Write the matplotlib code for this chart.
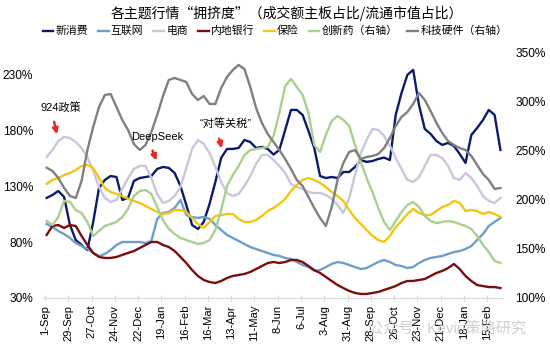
import matplotlib
matplotlib.use('Agg')
import matplotlib.pyplot as plt
import matplotlib.dates as mdates
import pandas as pd

plt.rcParams['font.family'] = ['Liberation Sans', 'Noto Sans CJK SC']

# Weekly sampling of the daily crowding series
dates = pd.date_range('2024-09-03', periods=79, freq='7D')
tick_dates = pd.date_range('2024-09-01', periods=20, freq='28D')
tick_labels = [f'{d.day}-{d.strftime("%b")}' for d in tick_dates]

# Left axis (%)
new_consumption = [119.5, 122.1, 125.7, 120.3, 95.3, 81.9, 77.4, 72.9, 98.0, 128.4,
                   135.6, 139.1, 138.2, 117.7, 119.5, 134.7, 137.3, 138.2, 139.1, 145.4,
                   147.2, 146.3, 141.8, 130.2, 113.2, 95.3, 91.7, 98.0, 114.1, 133.8,
                   155.3, 163.3, 163.3, 164.2, 171.3, 169.5, 164.2, 165.1, 163.3, 158.3,
                   162.4, 180.3, 198.2, 198.2, 193.7, 179.4, 164.2, 139.1, 137.3, 138.2,
                   137.3, 142.7, 142.7, 147.2, 153.4, 151.7, 152.5, 154.3, 155.6, 153.4,
                   193.7, 213.4, 229.5, 234.0, 202.6, 181.2, 176.7, 170.4, 166.9, 168.7,
                   166.0, 158.8, 150.8, 175.8, 182.1, 189.2, 198.2, 193.7, 162.4]
internet = [96.2, 93.5, 89.9, 87.2, 83.7, 79.2, 76.5, 73.8, 70.3, 67.6,
            69.4, 72.9, 77.4, 80.1, 80.1, 80.1, 80.1, 79.2, 81.0, 100.7,
            106.0, 106.9, 110.5, 117.7, 104.2, 102.5, 101.6, 102.5, 100.7, 95.3,
            90.8, 86.4, 83.7, 81.0, 78.3, 75.6, 73.8, 72.0, 70.3, 68.5,
            67.6, 65.8, 64.9, 62.2, 59.5, 57.7, 54.2, 55.0, 57.7, 60.4,
            62.2, 61.3, 59.5, 57.7, 55.9, 56.8, 59.5, 62.2, 64.0, 62.2,
            59.5, 58.6, 56.8, 57.7, 61.3, 64.0, 65.8, 66.7, 67.6, 69.4,
            71.1, 72.0, 73.8, 76.5, 81.9, 87.2, 94.4, 98.0, 101.6]
ecommerce = [156.1, 162.4, 170.4, 174.0, 173.1, 169.5, 164.2, 156.1, 143.6, 129.3,
             119.5, 115.9, 117.7, 127.5, 137.3, 145.4, 148.1, 148.1, 137.3, 123.0,
             115.0, 116.8, 121.2, 129.3, 146.3, 163.3, 171.3, 167.8, 159.7, 147.2,
             133.8, 123.9, 121.2, 123.0, 130.2, 139.1, 149.9, 157.9, 157.9, 153.4,
             148.1, 141.8, 132.0, 129.3, 127.5, 124.8, 123.9, 123.9, 122.1, 118.6,
             113.2, 106.0, 119.5, 140.0, 159.7, 171.3, 181.2, 180.3, 174.9, 166.0,
             155.2, 145.4, 135.6, 133.8, 138.2, 148.1, 157.9, 157.9, 155.2, 148.1,
             137.3, 135.6, 141.8, 137.3, 130.2, 121.2, 116.8, 115.0, 119.5]
mainland_banks = [86.4, 94.4, 95.3, 92.6, 95.3, 94.4, 85.5, 77.4, 70.3, 66.7,
                  65.8, 65.8, 66.7, 68.5, 70.3, 72.0, 74.7, 77.4, 80.1, 80.1,
                  77.4, 75.6, 72.0, 66.7, 61.3, 55.0, 49.7, 46.1, 44.3, 43.4,
                  45.2, 47.9, 49.7, 50.6, 51.5, 53.3, 55.9, 58.6, 61.3, 62.2,
                  61.3, 62.2, 64.0, 64.0, 62.2, 58.6, 55.0, 52.4, 48.8, 45.2,
                  41.6, 38.9, 36.3, 34.5, 33.6, 33.6, 34.5, 35.4, 37.2, 38.9,
                  40.7, 43.4, 45.2, 45.2, 46.1, 47.0, 49.7, 52.4, 54.2, 56.8,
                  60.4, 55.9, 49.7, 45.2, 41.6, 40.7, 39.8, 39.8, 38.9]
insurance = [132.0, 135.6, 137.3, 140.0, 141.8, 144.5, 148.1, 149.0, 146.3, 137.3,
             128.4, 124.8, 123.0, 121.2, 118.6, 116.8, 115.0, 112.3, 109.6, 106.9,
             105.1, 106.0, 108.7, 108.7, 106.9, 101.6, 96.2, 92.6, 98.0, 103.3,
             104.2, 105.1, 105.1, 100.7, 98.0, 98.0, 99.8, 103.3, 107.8, 110.5,
             114.1, 118.6, 125.7, 131.1, 135.6, 137.3, 135.6, 132.9, 129.3, 124.8,
             121.2, 116.8, 108.7, 101.6, 96.2, 90.8, 85.5, 81.9, 80.1, 85.5,
             93.5, 98.9, 105.1, 109.6, 106.0, 104.2, 104.2, 107.8, 111.4, 113.2,
             116.8, 115.0, 107.8, 108.7, 107.8, 105.1, 106.9, 105.1, 102.5]

# Right axis (%)
innovative_drugs = [178.3, 174.2, 182.3, 198.6, 197.6, 189.4, 186.4, 177.2, 163.0, 168.1,
                    173.2, 175.2, 177.2, 182.3, 190.5, 203.7, 208.7, 209.8, 205.7, 192.5,
                    179.3, 170.1, 165.0, 161.0, 158.9, 156.9, 154.9, 155.9, 158.9, 169.1,
                    189.4, 213.8, 225.0, 234.2, 245.3, 250.4, 251.4, 252.4, 253.5, 264.6,
                    288.0, 315.5, 322.6, 314.4, 306.3, 288.0, 255.5, 248.4, 265.7, 279.9,
                    285.0, 280.9, 274.8, 255.5, 238.2, 221.9, 207.7, 191.5, 177.2, 169.1,
                    178.3, 187.4, 194.5, 197.6, 192.5, 183.3, 178.3, 176.2, 177.2, 178.3,
                    177.2, 175.2, 173.2, 170.1, 163.0, 153.9, 146.7, 137.6, 135.6]
tech_hardware = [232.4, 229.1, 222.0, 211.8, 203.7, 201.6, 218.9, 250.4, 273.8, 294.1,
                 306.3, 307.3, 294.1, 280.9, 270.7, 256.5, 250.4, 255.5, 268.7, 286.0,
                 305.3, 321.6, 323.6, 321.6, 319.5, 307.3, 301.2, 305.3, 297.2, 297.2,
                 313.4, 324.6, 331.7, 336.8, 332.7, 314.4, 293.1, 277.9, 266.7, 258.5,
                 250.4, 241.3, 231.1, 219.9, 213.8, 202.6, 191.5, 181.3, 173.2, 192.5,
                 219.9, 237.2, 248.4, 250.4, 241.3, 243.3, 244.3, 246.3, 252.4, 262.6,
                 274.8, 284.0, 289.0, 297.2, 308.3, 301.2, 290.0, 277.9, 267.7, 259.6,
                 255.5, 252.4, 250.4, 244.3, 235.2, 226.0, 219.9, 210.8, 211.8]

left_series = [('新消费', new_consumption, '#0D1B6E'),
               ('互联网', internet, '#6E9FCB'),
               ('电商', ecommerce, '#CAC6DB'),
               ('内地银行', mainland_banks, '#7A0E0E'),
               ('保险', insurance, '#F3C614')]
right_series = [('创新药（右轴）', innovative_drugs, '#A8D18D'),
                ('科技硬件（右轴）', tech_hardware, '#808080')]

W, H = 550, 354


def px(x, y):
    return x / W, 1 - y / H


fig = plt.figure(figsize=(5.5, 3.54), dpi=100)
ax1 = fig.add_axes([43 / W, 1 - 298 / H, 460 / W, 246 / H])
ax2 = ax1.twinx()

handles = []
for name, vals, col in left_series:
    h, = ax1.plot(dates, vals, color=col, lw=1.7, label=name)
    handles.append(h)
for name, vals, col in right_series:
    h, = ax2.plot(dates, vals, color=col, lw=1.7, label=name)
    handles.append(h)

start = mdates.date2num(pd.Timestamp('2024-09-01'))
ax1.set_xlim(start - 2.4, start + 551.1)
ax1.set_xticks(tick_dates)
ax1.set_xticklabels(tick_labels, rotation=90, fontsize=8)
ax1.tick_params(axis='x', length=4, direction='inout', color='#D9D9D9', pad=3)

ax1.set_ylim(30, 250)
ax1.set_yticks([30, 80, 130, 180, 230])
ax1.set_yticklabels([f'{v}%' for v in [30, 80, 130, 180, 230]], fontsize=8.6)
ax1.tick_params(axis='y', length=0, pad=7)

ax2.set_ylim(100, 350)
ax2.set_yticks([100, 150, 200, 250, 300, 350])
ax2.set_yticklabels([f'{v}%' for v in [100, 150, 200, 250, 300, 350]], fontsize=8.6)
ax2.tick_params(axis='y', length=0, pad=9)

for ax in (ax1, ax2):
    for s in ('top', 'left', 'right'):
        ax.spines[s].set_visible(False)
    ax.spines['bottom'].set_color('#D9D9D9')

fig.text(*px(287, 13), '各主题行情“拥挤度”（成交额主板占比/流通市值占比）',
         ha='center', va='center', fontsize=10,
         family=['Noto Sans CJK SC', 'DejaVu Sans'])
fig.legend(handles, [h.get_label() for h in handles], loc='center',
           bbox_to_anchor=px(275, 31), ncol=7, frameon=False, fontsize=7.8,
           handlelength=1.0, handletextpad=0.2, columnspacing=0.9)

# event annotations
red = '#E8262A'
notes = [('924政策', (61, 108), (53.5, 119), (57.5, 137)),
         ('DeepSeek', (157, 137), (151.5, 148), (157.5, 163)),
         ('“对等关税”', (226, 124), (218.5, 136), (222.5, 151))]
for txt, tpos, tail, tip in notes:
    fig.text(*px(*tpos), txt, ha='center', va='center', fontsize=8)
    ax2.annotate('', xy=px(*tip), xycoords='figure fraction',
                 xytext=px(*tail), textcoords='figure fraction',
                 arrowprops=dict(arrowstyle='-|>', color=red, lw=1.8,
                                 mutation_scale=8), annotation_clip=False)

fig.text(*px(447, 328), '公众号 · Kevin策略研究', ha='center', va='center',
         fontsize=11, color='#C4C4C4', alpha=0.8)

fig.savefig('out.png', dpi=100)
